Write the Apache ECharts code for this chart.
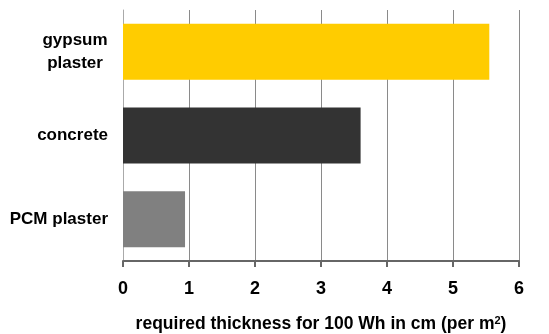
<!DOCTYPE html>
<html>
<head>
<meta charset="utf-8">
<script src="https://cdn.jsdelivr.net/npm/echarts@6/dist/echarts.min.js"></script>
<style>
html,body{margin:0;padding:0;background:#fff;}
#chart{width:549px;height:334px;}
</style>
</head>
<body>
<div id="chart"></div>
<script>
var categories = ['gypsum\nplaster', 'concrete', 'PCM plaster'];
var values = [5.55, 3.6, 0.94];
var barColors = ['#FFCC00', '#333333', '#808080'];
var xTicks = [0, 1, 2, 3, 4, 5, 6];
var xTitle = 'required thickness for 100 Wh in cm (per m{sup|2})';

var chart = echarts.init(document.getElementById('chart'));
var font = 'Liberation Sans, Arial, sans-serif';
chart.setOption({
  animation: false,
  grid: {left: 123, right: 30, top: 10, bottom: 73, containLabel: false, outerBoundsMode: 'none'},
  xAxis: {
    type: 'value',
    min: xTicks[0],
    max: xTicks[xTicks.length - 1],
    interval: 1,
    name: xTitle,
    nameLocation: 'middle',
    nameGap: 54,
    nameTextStyle: {
      fontFamily: font, fontWeight: 'bold', fontSize: 17.5, color: '#000',
      rich: {sup: {fontFamily: font, fontWeight: 'bold', fontSize: 11, color: '#000', verticalAlign: 'top', padding: [0, 0, 8, 0]}}
    },
    axisLine: {show: true, lineStyle: {color: '#666', width: 2}},
    axisTick: {show: true, length: 6, lineStyle: {color: '#666', width: 2}},
    axisLabel: {fontFamily: font, fontWeight: 'bold', fontSize: 18, color: '#000', margin: 19},
    splitLine: {show: true, lineStyle: {color: '#8a8a8a', width: 1}}
  },
  yAxis: {
    type: 'category',
    data: categories,
    inverse: true,
    axisLine: {show: true, lineStyle: {color: '#aaa', width: 1}},
    axisTick: {show: false},
    axisLabel: {
      fontFamily: font, fontWeight: 'bold', fontSize: 17, color: '#000', margin: 15, lineHeight: 23, align: 'right',
      formatter: function (v) {
        if (v.indexOf('\n') < 0) return v;
        return v.split('\n').map(function (s) { return '{c|' + s + '}'; }).join('\n');
      },
      rich: {c: {fontFamily: font, fontWeight: 'bold', fontSize: 17, color: '#000', width: 66, align: 'center', lineHeight: 23}}
    }
  },
  series: [{
    type: 'bar',
    data: values.map(function (v, i) { return {value: v, itemStyle: {color: barColors[i]}}; }),
    barWidth: 56
  }]
});
</script>
</body>
</html>
